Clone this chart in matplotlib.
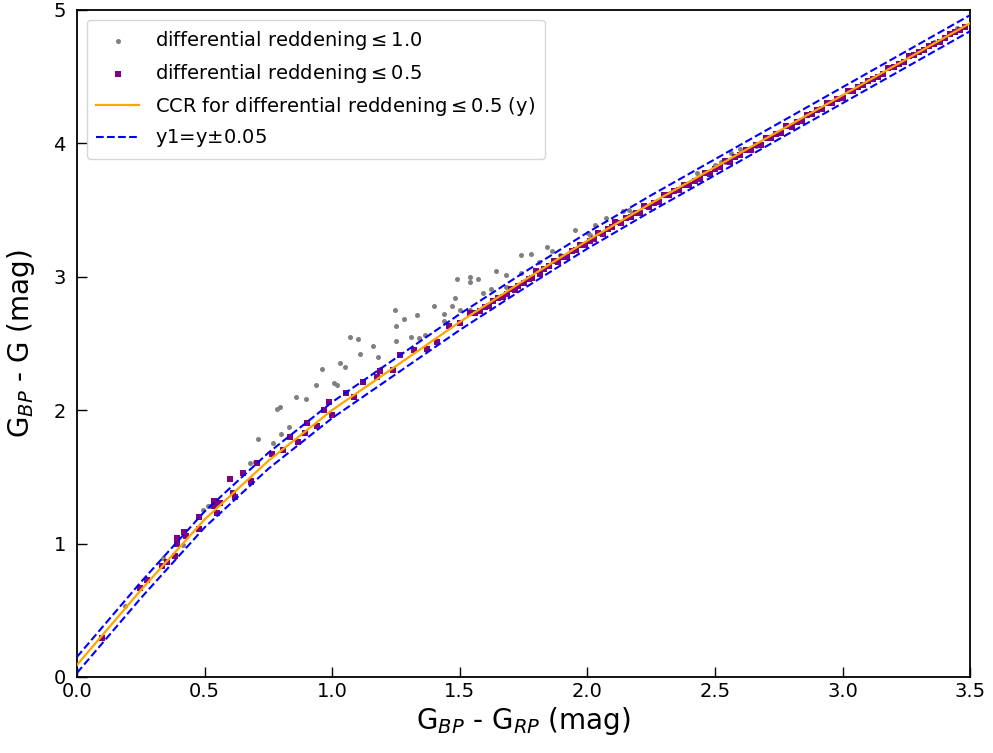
import matplotlib
matplotlib.use("Agg")
import matplotlib.pyplot as plt
import numpy as np

# CCR curve (G_BP-G_RP vs G_BP-G)
ccr_x = [0.0, 0.25, 0.5, 0.75, 1.0, 1.25, 1.5, 1.75, 2.0, 2.25, 2.5, 2.75, 3.0, 3.25, 3.5]
ccr_y = [0.09, 0.65, 1.18, 1.62, 2.00, 2.33, 2.66, 2.97, 3.27, 3.55, 3.82, 4.09, 4.36, 4.63, 4.90]
band = 0.06  # drawn spacing of the dashed envelope, as seen in the picture

# stars with differential reddening <= 1.0 (grey)
grey_x = [0.097, 0.188, 0.338, 0.417, 0.495, 0.515, 0.522, 0.650, 0.678, 0.698,
          0.709, 0.770, 0.783, 0.796, 0.800, 0.830, 0.860, 0.899, 0.938, 0.960,
          1.008, 1.018, 1.029, 1.050, 1.071, 1.101, 1.110, 1.159, 1.180, 1.188,
          1.248, 1.250, 1.250, 1.280, 1.310, 1.331, 1.340, 1.362, 1.400, 1.439,
          1.440, 1.471, 1.481, 1.489, 1.499, 1.539, 1.540, 1.540, 1.571, 1.591,
          1.621, 1.641, 1.680, 1.681, 1.740, 1.741, 1.780, 1.810, 1.840, 1.860,
          1.894, 1.950, 2.001, 2.012, 2.031, 2.072, 2.091, 2.138, 2.162, 2.173,
          2.234, 2.325, 2.430, 2.502, 2.522, 2.540, 2.561, 2.600, 2.659, 2.789,
          2.986, 3.358, 3.450]
grey_y = [0.30, 0.53, 0.89, 0.99, 1.25, 1.28, 1.28, 1.53, 1.60, 1.61,
          1.78, 1.75, 2.01, 2.02, 1.82, 1.87, 2.10, 2.08, 2.19, 2.31,
          2.20, 2.19, 2.35, 2.32, 2.55, 2.53, 2.42, 2.48, 2.40, 2.31,
          2.75, 2.63, 2.52, 2.68, 2.55, 2.71, 2.54, 2.56, 2.78, 2.72,
          2.67, 2.78, 2.84, 2.98, 2.75, 2.75, 3.00, 2.96, 2.98, 2.88,
          2.91, 3.04, 3.01, 2.92, 3.16, 3.03, 3.17, 3.11, 3.22, 3.19,
          3.16, 3.35, 3.33, 3.31, 3.39, 3.44, 3.38, 3.49, 3.50, 3.48,
          3.52, 3.63, 3.78, 3.84, 3.86, 3.86, 3.93, 3.96, 3.98, 4.13,
          4.33, 4.76, 4.86]

# stars with differential reddening <= 0.5 (purple)
purple_x = [0.097, 0.247, 0.273, 0.332, 0.352, 0.384, 0.391, 0.391, 0.420, 0.427,
            0.480, 0.480, 0.538, 0.538, 0.548, 0.561, 0.600, 0.613, 0.620, 0.650,
            0.681, 0.681, 0.707, 0.763, 0.809, 0.835, 0.868, 0.894, 0.901, 0.940,
            0.969, 0.989, 0.999, 1.054, 1.084, 1.119, 1.175, 1.188, 1.240, 1.267,
            1.319, 1.371, 1.410, 1.456, 1.502, 1.541, 1.56, 1.60, 1.63, 1.67,
            1.70, 1.73, 1.77, 1.80, 1.83, 1.87, 1.90, 1.94, 1.97, 2.01,
            2.04, 2.08, 2.11, 2.15, 2.19, 2.22, 2.26, 2.30, 2.34, 2.38,
            2.42, 2.46, 2.50, 2.54, 2.58, 2.62, 2.66, 2.70, 2.74, 2.78,
            2.82, 2.86, 2.90, 2.94, 2.98, 3.02, 3.06, 3.10, 3.14, 3.18,
            3.22, 3.26, 3.30, 3.34, 3.38, 3.42, 3.46,
            1.58, 1.615, 1.65, 1.685, 1.715, 1.75, 1.785, 1.815, 1.85, 1.885,
            1.92, 1.955, 1.99, 2.025, 2.06, 2.095, 2.13, 2.17, 2.205, 2.24,
            2.28, 2.32, 2.36, 2.40, 2.44, 2.48, 2.52, 2.56, 2.60, 2.64,
            2.68, 2.72, 2.76, 2.80, 2.84, 2.88, 2.92, 2.96, 3.00, 3.04,
            3.08, 3.12, 3.16, 3.20, 3.24, 3.28, 3.32, 3.36, 3.40, 3.44, 3.48]
purple_y = [0.29, 0.67, 0.73, 0.83, 0.86, 0.91, 1.00, 1.04, 1.09, 1.06,
            1.11, 1.20, 1.32, 1.28, 1.23, 1.30, 1.48, 1.38, 1.35, 1.53,
            1.47, 1.46, 1.60, 1.67, 1.70, 1.80, 1.76, 1.83, 1.90, 1.88,
            2.00, 2.06, 1.96, 2.13, 2.10, 2.21, 2.25, 2.29, 2.30, 2.41,
            2.45, 2.46, 2.51, 2.63, 2.65, 2.73, 2.73, 2.77, 2.82, 2.85,
            2.91, 2.93, 2.98, 3.04, 3.06, 3.12, 3.15, 3.19, 3.24, 3.27,
            3.33, 3.36, 3.41, 3.44, 3.48, 3.53, 3.55, 3.61, 3.64, 3.69,
            3.72, 3.78, 3.81, 3.87, 3.90, 3.95, 3.99, 4.04, 4.07, 4.13,
            4.16, 4.21, 4.25, 4.30, 4.33, 4.39, 4.42, 4.47, 4.50, 4.56,
            4.59, 4.65, 4.68, 4.73, 4.76, 4.82, 4.85,
            2.74, 2.78, 2.84, 2.87, 2.90, 2.95, 2.99, 3.02, 3.08, 3.11,
            3.15, 3.20, 3.24, 3.28, 3.32, 3.37, 3.40, 3.45, 3.48, 3.52,
            3.56, 3.61, 3.65, 3.69, 3.73, 3.77, 3.82, 3.86, 3.91, 3.95,
            3.99, 4.04, 4.08, 4.12, 4.17, 4.22, 4.26, 4.30, 4.34, 4.39,
            4.44, 4.48, 4.52, 4.57, 4.61, 4.66, 4.70, 4.74, 4.79, 4.83, 4.87]

fig = plt.figure(figsize=(9.93, 7.53), dpi=100)
ax = fig.add_axes([0.0775, 0.101, 0.8995, 0.886])

ax.scatter(grey_x, grey_y, s=13, color="grey", marker="o", linewidths=0,
           label=r"differential reddening$\leq$1.0", zorder=2)
ax.scatter(purple_x, purple_y, s=15, color="purple", marker="s", linewidths=0,
           label=r"differential reddening$\leq$0.5", zorder=3)
cx = np.array(ccr_x)
cy = np.array(ccr_y)
ax.plot(cx, cy, color="orange", lw=1.6,
        label=r"CCR for differential reddening$\leq$0.5 (y)", zorder=5)
ax.plot(cx, cy + band, color="blue", ls="--", lw=1.5,
        label=r"y1=y$\pm$0.05", zorder=4)
ax.plot(cx, cy - band, color="blue", ls="--", lw=1.5, zorder=4)

ax.set_xlim(0, 3.5)
ax.set_ylim(0, 5)
ax.set_xticks(np.arange(0, 3.51, 0.5))
ax.set_yticks([0, 1, 2, 3, 4, 5])
ax.tick_params(direction="in", length=7, width=1, labelsize=14)
ax.tick_params(axis="y", pad=8)
for sp in ax.spines.values():
    sp.set_linewidth(1.3)
ax.set_xlabel(r"G$_{BP}$ - G$_{RP}$ (mag)", fontsize=20, labelpad=3)
ax.set_ylabel(r"G$_{BP}$ - G (mag)", fontsize=20, labelpad=12)
ax.legend(loc="upper left", fontsize=14, handlelength=2.2, borderpad=0.5,
          labelspacing=0.5, handletextpad=0.8)

fig.savefig("out.png", dpi=100)
